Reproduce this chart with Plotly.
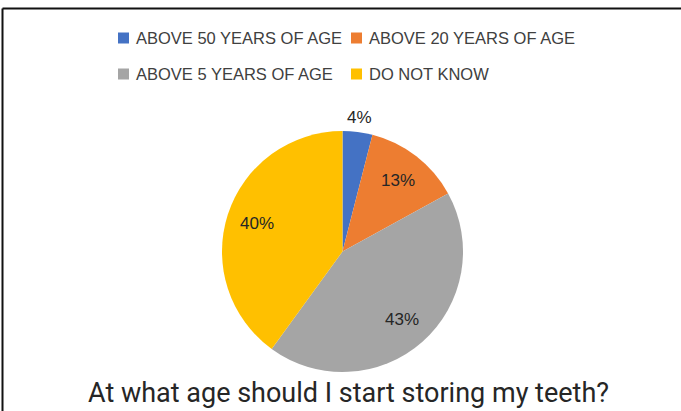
import math
import plotly.graph_objects as go

# Survey answers
categories = ["ABOVE 50 YEARS OF AGE", "ABOVE 20 YEARS OF AGE",
              "ABOVE 5 YEARS OF AGE", "DO NOT KNOW"]
shares = [4, 13, 43, 40]
colors = ["#4472C4", "#ED7D31", "#A5A5A5", "#FFC000"]
title_text = "At what age should I start storing my teeth?"

W, H = 681, 411
LABEL_FONT = "Liberation Sans, Arial, sans-serif"

# pie placement (pixels from top-left)
cx, cy, r = 342.5, 251.5, 120.5

fig = go.Figure(go.Pie(
    labels=categories,
    values=shares,
    marker=dict(colors=colors, line=dict(width=0)),
    sort=False,
    direction="clockwise",
    rotation=0,
    textinfo="none",
    showlegend=False,
    hoverinfo="label+percent",
    domain=dict(x=[(cx - r) / W, (cx + r) / W],
                y=[(H - cy - r) / H, (H - cy + r) / H]),
))

shapes = [
    # frame lines along the top and left edges
    dict(type="line", xref="paper", yref="paper",
         x0=2.5 / W, x1=1.0, y0=1 - 8.5 / H, y1=1 - 8.5 / H,
         line=dict(color="#111111", width=2)),
    dict(type="line", xref="paper", yref="paper",
         x0=2.5 / W, x1=2.5 / W, y0=1 - 8.5 / H, y1=0,
         line=dict(color="#111111", width=2)),
]
annotations = []

# data labels: placed on each slice's bisector; small slices go outside
total = sum(shares)
cum = 0
for v in shares:
    mid = (cum + v / 2) / total * 2 * math.pi
    cum += v
    d = r + 15 if v / total < 0.08 else 0.75 * r
    px = cx + d * math.sin(mid)
    py = cy - d * math.cos(mid)
    annotations.append(dict(text=f"{v}%", xref="paper", yref="paper",
                            x=px / W, y=1 - py / H, xanchor="center", yanchor="middle",
                            showarrow=False,
                            font=dict(family=LABEL_FONT, size=17, color="#262626")))

# legend: two rows of two entries
col_x = [118, 351]
row_y = [38, 74]
for i, (name, col) in enumerate(zip(categories, colors)):
    x = col_x[i % 2]
    y = row_y[i // 2]
    shapes.append(dict(type="rect", xref="paper", yref="paper",
                       x0=x / W, x1=(x + 11) / W,
                       y0=1 - (y + 5.5) / H, y1=1 - (y - 5.5) / H,
                       fillcolor=col, line=dict(width=0)))
    annotations.append(dict(text=name, xref="paper", yref="paper",
                            x=(x + 16) / W, y=1 - y / H,
                            xanchor="left", yanchor="middle", showarrow=False,
                            font=dict(family=LABEL_FONT, size=16.5, color="#404040")))

annotations.append(dict(text=title_text, xref="paper", yref="paper",
                        x=348.5 / W, y=1 - 393 / H, xanchor="center", yanchor="middle",
                        showarrow=False,
                        font=dict(family="Roboto, sans-serif", size=27, color="#262626")))

fig.update_layout(
    width=W, height=H,
    margin=dict(l=0, r=0, t=0, b=0),
    paper_bgcolor="white",
    plot_bgcolor="white",
    shapes=shapes,
    annotations=annotations,
)

fig.write_html("out.html")
